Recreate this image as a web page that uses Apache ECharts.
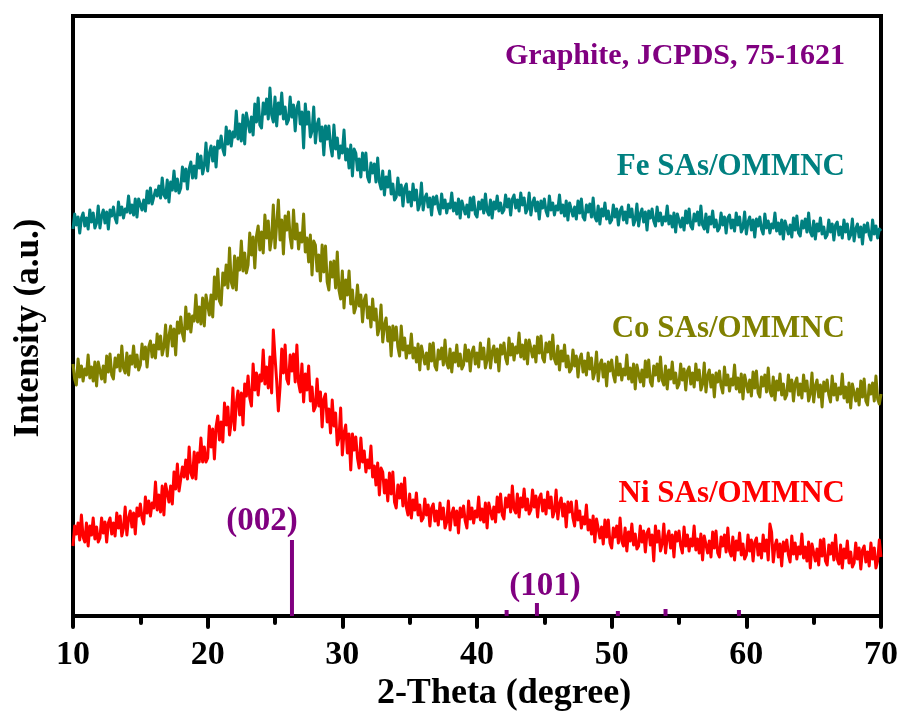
<!DOCTYPE html>
<html>
<head>
<meta charset="utf-8">
<title>XRD patterns</title>
<script src="https://cdn.jsdelivr.net/npm/echarts@6/dist/echarts.min.js"></script>
<style>
  html, body { margin: 0; padding: 0; background: #fff; }
  #chart { width: 903px; height: 715px; }
</style>
</head>
<body>
<div id="chart"></div>
<script>
// 2-theta sampling grid (degrees)
const twoThetaStart = 10;
const twoThetaStep = 0.125;

// Intensities (stacked offsets, arbitrary units); one row per degree, 10 to 69, then the 70 degree point
const feIntensity = [
  387,402,391,399,383,398,403,390, 398,387,406,394,403,388,393,410,
  388,400,406,393,404,387,406,400, 409,398,393,414,401,409,398,407,
  404,420,403,411,401,417,399,417, 417,406,416,405,425,413,428,412,
  410,426,420,430,418,438,421,418, 436,414,434,426,445,425,437,423,
  428,449,435,447,427,447,454,438, 450,438,462,448,460,442,450,473,
  445,463,470,455,469,449,475,468, 480,467,461,489,472,485,470,484,
  479,505,477,492,475,501,472,503, 502,484,499,481,512,494,518,491,
  488,513,502,517,497,528,501,494, 519,490,513,502,523,497,509,492,
  496,519,499,511,485,508,514,492, 504,468,512,492,504,479,485,509,
  473,491,497,475,489,461,490,477, 490,470,460,491,467,478,458,470,
  463,486,456,467,448,471,440,467, 463,446,457,439,463,446,463,439,
  434,453,443,452,434,458,434,427, 445,421,439,429,445,422,432,416,
  419,438,421,431,410,428,432,414, 424,410,432,416,426,406,412,433,
  406,418,422,409,418,401,419,412, 420,408,402,422,408,416,403,412,
  408,423,405,413,402,417,398,415, 414,402,411,399,418,406,419,402,
  399,414,407,416,403,422,405,401, 416,398,414,407,420,405,413,403,
  406,421,409,417,401,417,421,408, 416,405,423,411,418,403,407,423,
  401,413,418,405,414,397,415,408, 417,405,400,420,406,413,401,410,
  406,421,403,411,400,415,396,413, 412,400,409,397,415,403,417,399,
  396,411,404,412,399,418,399,395, 410,392,407,400,413,397,405,393,
  396,411,399,407,391,405,409,396, 404,393,411,399,407,391,396,412,
  390,402,407,394,404,386,405,398, 407,395,390,409,395,403,391,399,
  395,410,392,400,389,403,384,402, 401,389,398,386,405,393,407,390,
  387,402,395,404,391,410,391,387, 402,384,399,392,405,389,396,385,
  388,403,391,399,383,398,401,388, 396,385,403,391,399,384,388,404,
  382,394,399,386,396,379,397,390, 399,387,382,402,388,395,383,392,
  388,403,385,393,382,396,377,395, 394,382,391,379,398,386,400,383,
  380,395,388,397,384,403,384,380, 395,377,392,385,398,382,389,378,
  381,396,384,392,376,391,394,381, 389,378,396,384,392,377,381,397,
  375,387,392,379,389,372,391,384, 393,381,376,396,382,390,378,387,
  385
];
const coIntensity = [
  252,237,231,257,239,250,235,247, 241,261,238,249,235,254,230,254,
  253,237,250,234,260,244,262,241, 237,258,249,261,245,270,248,243,
  263,241,260,252,270,249,261,246, 251,272,257,269,249,269,275,259,
  271,258,282,267,280,261,269,291, 260,280,290,270,287,261,294,283,
  299,282,275,309,287,302,284,300, 295,321,294,309,292,318,290,321,
  323,301,321,299,339,317,347,315, 311,343,331,351,328,368,334,328,
  360,326,358,346,375,345,363,343, 351,383,361,379,348,380,390,366,
  384,363,401,378,395,366,378,411, 368,392,416,376,396,362,400,386,
  404,379,368,406,377,392,367,383, 374,402,364,378,354,381,341,375,
  371,345,361,335,371,344,370,334, 326,354,339,355,328,364,326,317,
  345,308,336,321,345,312,326,303, 309,331,310,321,294,316,321,298,
  309,289,317,296,307,281,288,311, 274,291,298,275,289,260,290,276,
  289,269,260,290,266,278,258,270, 263,282,258,268,254,272,246,270,
  268,252,263,247,272,255,273,250, 246,266,257,268,251,276,253,248,
  267,244,263,254,271,250,262,247, 251,271,255,266,245,264,269,252,
  263,249,273,257,268,248,256,277, 248,264,270,254,267,245,271,262,
  273,258,252,278,261,272,256,269, 263,283,259,271,257,276,252,276,
  275,259,270,254,279,263,280,258, 254,273,264,274,257,281,257,252,
  270,246,265,255,271,249,260,244, 247,266,250,260,239,257,262,244,
  255,241,263,247,258,237,244,264, 235,251,256,239,252,230,254,245,
  256,241,234,259,241,252,236,247, 241,261,237,248,234,252,227,251,
  250,234,246,230,255,239,256,234, 230,250,241,252,235,259,236,231,
  250,227,246,237,254,233,243,228, 232,252,236,247,226,245,249,232,
  243,229,252,236,246,226,232,253, 224,240,246,229,241,219,243,234,
  245,230,223,249,231,241,225,237, 231,251,227,238,224,242,217,241,
  240,224,236,220,244,228,245,223, 219,239,230,241,224,248,225,220,
  239,216,235,226,242,221,232,217, 221,241,225,236,215,233,238,221,
  232,218,241,225,235,215,222,243, 214,230,236,219,231,209,234,225,
  236,221,214,240,221,232,216,228, 222,242,218,229,214,233,208,232,
  231,215,227,211,235,219,237,215, 211,231,222,233,215,240,217,212,
  222
];
const niIntensity = [
  70,90,82,93,76,101,79,74, 93,70,90,81,98,77,89,74,
  78,98,83,94,74,93,98,82, 93,80,103,88,100,80,88,109,
  81,98,105,89,103,82,108,100, 112,98,92,119,103,115,100,113,
  108,134,106,121,104,130,101,132, 131,114,130,112,144,127,152,125,
  123,149,139,156,137,169,143,138, 164,137,163,154,178,154,169,154,
  158,190,169,187,157,189,200,176, 194,174,213,191,209,181,194,228,
  186,212,225,201,223,191,232,220, 240,218,210,252,226,243,221,241,
  235,266,232,249,228,259,223,286, 259,235,205,229,267,243,271,237,
  232,261,245,262,234,271,233,224, 252,214,242,226,250,215,229,205,
  209,237,210,224,189,217,222,194, 207,183,216,190,203,171,178,208,
  161,183,191,163,182,146,182,166, 179,158,148,178,154,165,144,156,
  148,170,139,150,131,153,121,148, 144,123,136,115,143,122,144,114,
  108,131,118,132,110,138,109,101, 122,98,116,106,123,101,111,95,
  98,117,101,111,90,108,112,95, 105,91,113,97,108,88,94,115,
  86,102,108,91,105,83,108,99, 110,95,88,115,97,108,93,105,
  99,119,96,107,94,113,88,113, 112,97,109,94,119,104,122,101,
  97,118,109,121,104,130,107,103, 122,99,118,109,127,106,117,102,
  106,126,109,120,99,118,122,105, 116,102,124,108,119,99,105,126,
  97,112,118,100,112,89,114,104, 114,98,90,115,96,105,88,99,
  92,111,86,96,82,100,74,97, 95,78,89,72,96,79,96,73,
  68,88,79,90,73,98,75,70, 88,65,84,75,92,71,82,67,
  70,90,74,85,64,83,87,71, 81,55,90,74,85,65,72,92,
  63,79,85,68,81,59,84,75, 85,70,63,89,70,81,65,77,
  70,90,66,77,63,82,56,80, 79,63,75,59,84,68,85,63,
  59,79,70,81,64,88,65,60, 79,56,75,66,83,61,72,57,
  61,81,65,76,55,74,78,61, 72,58,81,65,76,56,92,84,
  54,70,76,59,72,50,74,65, 76,61,54,80,62,73,57,69,
  62,82,58,69,55,74,48,72, 71,55,67,51,76,60,77,55,
  51,71,62,73,56,81,57,52, 71,48,67,58,75,53,64,49,
  53,73,57,68,47,66,70,54, 64,50,73,57,68,48,55,76,
  59
];

// Graphite reference lines (JCPDS 75-1621)
const refPositions = [26.26, 42.2, 44.45, 50.46, 54.0, 59.45];
const refHeights = [76, 6, 13, 5, 7, 6];

const xTicks = [10, 20, 30, 40, 50, 60, 70];

const FONT = '"Liberation Serif", "Times New Roman", serif';
const TEAL = '#008080', OLIVE = '#808000', RED = '#ff0000', PURPLE = '#800080';

function toPairs(values) {
  return values.map((v, i) => [twoThetaStart + i * twoThetaStep, v]);
}

const chart = echarts.init(document.getElementById('chart'), null, { renderer: 'canvas', width: 903, height: 715 });

const lineSeries = (name, values, color) => ({
  name, type: 'line', data: toPairs(values),
  showSymbol: false, symbol: 'none', sampling: null,
  lineStyle: { color, width: 3, join: 'round' },
  animation: false, z: 3
});

chart.setOption({
  animation: false,
  backgroundColor: '#fff',
  grid: { left: 73, right: 22, top: 16, bottom: 99, show: true, borderColor: '#000', borderWidth: 4, containLabel: false },
  xAxis: {
    type: 'value', min: xTicks[0], max: xTicks[xTicks.length - 1], interval: 10,
    axisLine: { show: true, onZero: false, lineStyle: { color: '#000', width: 4 } },
    axisTick: { show: true, inside: false, length: 11, lineStyle: { color: '#000', width: 4, cap: 'round' } },
    minorTick: { show: true, splitNumber: 2, length: 7, lineStyle: { color: '#000', width: 4, cap: 'round' } },
    splitLine: { show: false },
    axisLabel: { color: '#000', fontFamily: FONT, fontWeight: 'bold', fontSize: 34, margin: 22 }
  },
  yAxis: {
    type: 'value', min: 0, max: 600,
    axisLine: { show: true, lineStyle: { color: '#000', width: 4 } },
    axisTick: { show: false }, axisLabel: { show: false }, splitLine: { show: false }
  },
  series: [
    lineSeries('Fe SAs/OMMNC', feIntensity, TEAL),
    lineSeries('Co SAs/OMMNC', coIntensity, OLIVE),
    lineSeries('Ni SAs/OMMNC', niIntensity, RED),
    {
      name: 'Graphite', type: 'bar', barWidth: 4,
      data: refPositions.map((x, i) => [x, refHeights[i]]),
      itemStyle: { color: PURPLE }, z: 2, animation: false
    }
  ],
  graphic: [
    { type: 'text', x: 504, y: 694, style: { text: '2-Theta (degree)', fill: '#000', font: `bold 36px ${FONT}`, align: 'center', verticalAlign: 'middle' } },
    { type: 'text', x: 29, y: 328, rotation: Math.PI / 2, style: { text: 'Intensity (a.u.)', fill: '#000', font: `bold 35px ${FONT}`, align: 'center', verticalAlign: 'middle' } },
    { type: 'text', right: 58, top: 41, style: { text: 'Graphite, JCPDS, 75-1621', fill: PURPLE, font: `bold 30px ${FONT}` } },
    { type: 'text', right: 58, top: 151, style: { text: 'Fe SAs/OMMNC', fill: TEAL, font: `bold 31px ${FONT}` } },
    { type: 'text', right: 58, top: 313, style: { text: 'Co SAs/OMMNC', fill: OLIVE, font: `bold 31px ${FONT}` } },
    { type: 'text', right: 58, top: 478, style: { text: 'Ni SAs/OMMNC', fill: RED, font: `bold 31px ${FONT}` } },
    { type: 'text', x: 262, y: 521, style: { text: '(002)', fill: PURPLE, font: `bold 33px ${FONT}`, align: 'center', verticalAlign: 'middle' } },
    { type: 'text', x: 545, y: 586, style: { text: '(101)', fill: PURPLE, font: `bold 33px ${FONT}`, align: 'center', verticalAlign: 'middle' } }
  ]
});
</script>
</body>
</html>
